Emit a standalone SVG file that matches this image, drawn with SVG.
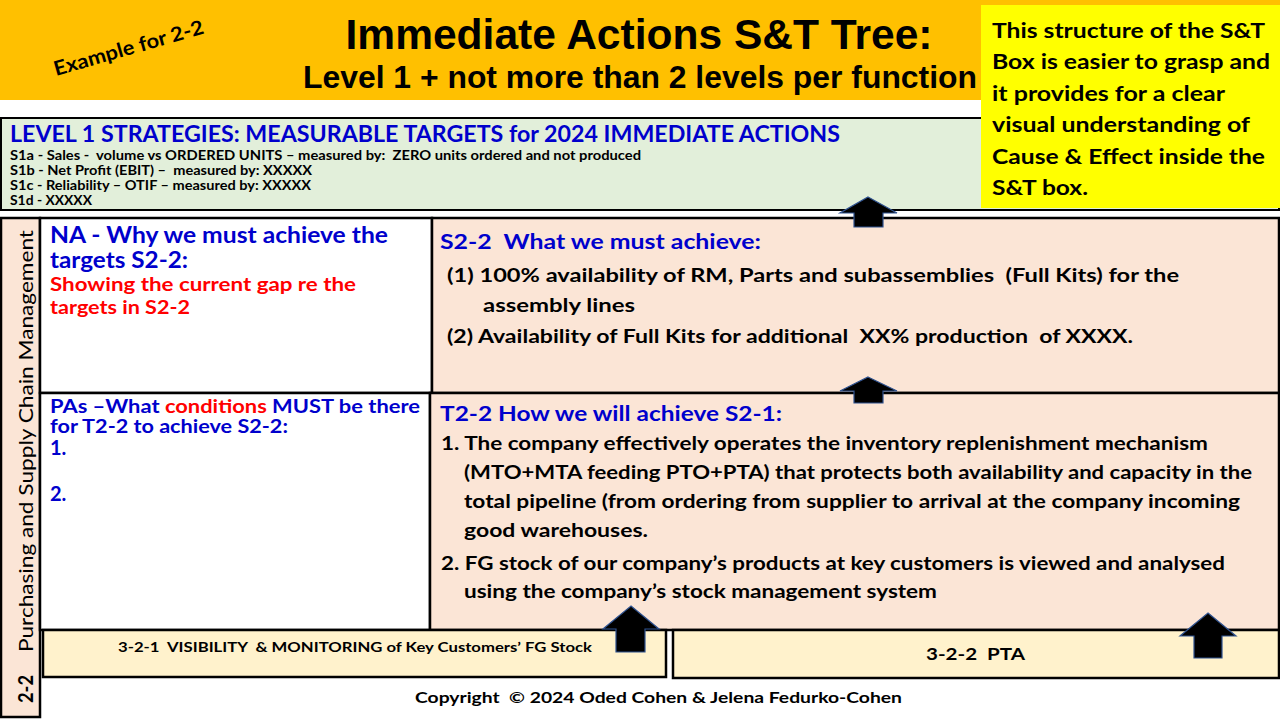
<svg xmlns="http://www.w3.org/2000/svg" width="1280" height="720" viewBox="0 0 1280 720">
<style>
text{white-space:pre;}
.c{font-family:Lato,"Open Sans",sans-serif;font-weight:bold;}
.blue{fill:#0000CC;}
.red{fill:#FF0000;}
.blk{fill:#000000;}
.cell{stroke:#000;stroke-width:2.5;}
.arrow{fill:#000;stroke:#2F528F;stroke-width:1.2;}
</style>
<rect width="1280" height="720" fill="#FFFFFF"/>
<g id="header">
<rect x="0" y="0" width="1280" height="100" fill="#FFC000"/>
<text x="639" y="49" text-anchor="middle" font-family="'Liberation Sans',Arial,sans-serif" font-weight="bold" font-size="42" textLength="587" lengthAdjust="spacingAndGlyphs">Immediate Actions S&amp;T Tree:</text>
<text x="640" y="88" text-anchor="middle" font-family="'Liberation Sans',Arial,sans-serif" font-weight="bold" font-size="31" textLength="674" lengthAdjust="spacingAndGlyphs">Level 1 + not more than 2 levels per function</text>
<text class="c blk" font-size="20" transform="translate(56,76) rotate(-16)" textLength="155" lengthAdjust="spacingAndGlyphs">Example for 2-2</text>
</g>
<g id="level1">
<rect x="1" y="118" width="1278" height="92" fill="#E2EFDA" stroke="#000" stroke-width="2"/>
<text class="c blue" x="10" y="142" font-size="23" textLength="830" lengthAdjust="spacingAndGlyphs">LEVEL 1 STRATEGIES: MEASURABLE TARGETS for 2024 IMMEDIATE ACTIONS</text>
<text class="c blk" x="10" y="160" font-size="13" textLength="631" lengthAdjust="spacingAndGlyphs">S1a - Sales -  volume vs ORDERED UNITS – measured by:  ZERO units ordered and not produced</text>
<text class="c blk" x="10" y="175" font-size="13" textLength="302" lengthAdjust="spacingAndGlyphs">S1b - Net Profit (EBIT) –  measured by: XXXXX</text>
<text class="c blk" x="10" y="190" font-size="13" textLength="301" lengthAdjust="spacingAndGlyphs">S1c - Reliability – OTIF – measured by: XXXXX</text>
<text class="c blk" x="10" y="205" font-size="13" textLength="82" lengthAdjust="spacingAndGlyphs">S1d - XXXXX</text>
</g>
<g id="note">
<rect x="981" y="5" width="299" height="203" fill="#FFFF00"/>
<text class="c blk" font-size="20.5"><tspan x="992" y="38" textLength="273" lengthAdjust="spacingAndGlyphs">This structure of the S&amp;T</tspan><tspan x="992" y="69" textLength="278" lengthAdjust="spacingAndGlyphs">Box is easier to grasp and</tspan><tspan x="992" y="101" textLength="233" lengthAdjust="spacingAndGlyphs">it provides for a clear</tspan><tspan x="992" y="132" textLength="258" lengthAdjust="spacingAndGlyphs">visual understanding of</tspan><tspan x="992" y="164" textLength="273" lengthAdjust="spacingAndGlyphs">Cause &amp; Effect inside the</tspan><tspan x="992" y="195" textLength="96" lengthAdjust="spacingAndGlyphs">S&amp;T box.</tspan></text>
</g>
<g id="function-label">
<rect x="1" y="218" width="39" height="499" fill="#FBE5D6" class="cell"/>
<g transform="translate(33,703) rotate(-90)">
<text class="c blk" x="0" y="0" font-size="20" textLength="28" lengthAdjust="spacingAndGlyphs">2-2</text>
<text x="51" y="0" font-family="Lato,'Open Sans',sans-serif" font-size="20" fill="#000" textLength="422" lengthAdjust="spacingAndGlyphs">Purchasing and Supply Chain Management</text>
</g>
</g>
<g id="na">
<rect x="40" y="218" width="392" height="175" fill="#FFFFFF" class="cell"/>
<text class="c blue" x="50" y="243" font-size="22" textLength="338" lengthAdjust="spacingAndGlyphs">NA - Why we must achieve the</text>
<text class="c blue" x="50" y="268" font-size="22" textLength="138" lengthAdjust="spacingAndGlyphs">targets S2-2:</text>
<text class="c red" x="50" y="291" font-size="19" textLength="306" lengthAdjust="spacingAndGlyphs">Showing the current gap re the</text>
<text class="c red" x="50" y="314" font-size="19" textLength="140" lengthAdjust="spacingAndGlyphs">targets in S2-2</text>
</g>
<g id="s22">
<rect x="432" y="218" width="847" height="175" fill="#FBE5D6" class="cell"/>
<text class="c blue" x="440" y="249" font-size="21" textLength="321" lengthAdjust="spacingAndGlyphs">S2-2  What we must achieve:</text>
<text class="c blk" x="447" y="282" font-size="19" textLength="732" lengthAdjust="spacingAndGlyphs">(1) 100% availability of RM, Parts and subassemblies  (Full Kits) for the</text>
<text class="c blk" x="483" y="312" font-size="19" textLength="152" lengthAdjust="spacingAndGlyphs">assembly lines</text>
<text class="c blk" x="447" y="343" font-size="19" textLength="686" lengthAdjust="spacingAndGlyphs">(2) Availability of Full Kits for additional  XX% production  of XXXX.</text>
</g>
<g id="pas">
<rect x="40" y="393" width="390" height="237" fill="#FFFFFF" class="cell"/>
<text class="c blue" x="50" y="413" font-size="19.5" textLength="370" lengthAdjust="spacingAndGlyphs">PAs –What <tspan class="red">conditions</tspan> MUST be there</text>
<text class="c blue" x="50" y="433" font-size="19.5" textLength="238" lengthAdjust="spacingAndGlyphs">for T2-2 to achieve S2-2:</text>
<text class="c blue" x="50" y="455" font-size="20">1.</text>
<text class="c blue" x="50" y="501" font-size="20">2.</text>
</g>
<g id="t22">
<rect x="430" y="393" width="849" height="237" fill="#FBE5D6" class="cell"/>
<text class="c blue" x="440" y="421" font-size="21" textLength="342" lengthAdjust="spacingAndGlyphs">T2-2 How we will achieve S2-1:</text>
<text class="c blk" x="441" y="450" font-size="19.5" textLength="767" lengthAdjust="spacingAndGlyphs">1. The company effectively operates the inventory replenishment mechanism</text>
<text class="c blk" x="464" y="479" font-size="19.5" textLength="788" lengthAdjust="spacingAndGlyphs">(MTO+MTA feeding PTO+PTA) that protects both availability and capacity in the</text>
<text class="c blk" x="464" y="508" font-size="19.5" textLength="776" lengthAdjust="spacingAndGlyphs">total pipeline (from ordering from supplier to arrival at the company incoming</text>
<text class="c blk" x="464" y="537" font-size="19.5" textLength="184" lengthAdjust="spacingAndGlyphs">good warehouses.</text>
<text class="c blk" x="441" y="570" font-size="19.5" textLength="784" lengthAdjust="spacingAndGlyphs">2. FG stock of our company’s products at key customers is viewed and analysed</text>
<text class="c blk" x="464" y="598" font-size="19.5" textLength="473" lengthAdjust="spacingAndGlyphs">using the company’s stock management system</text>
</g>
<g id="box-321">
<rect x="43" y="630" width="623" height="47" fill="#FFF2CC" class="cell"/>
<text class="c blk" x="118" y="652" font-size="14" textLength="474" lengthAdjust="spacingAndGlyphs">3-2-1  VISIBILITY  &amp; MONITORING of Key Customers’ FG Stock</text>
</g>
<g id="box-322">
<rect x="673" y="630" width="606" height="48" fill="#FFF2CC" class="cell"/>
<text class="c blk" x="926" y="660" font-size="17.5" textLength="99" lengthAdjust="spacingAndGlyphs">3-2-2  PTA</text>
</g>
<g id="copyright">
<text class="c blk" x="415" y="703" font-size="16" textLength="487" lengthAdjust="spacingAndGlyphs">Copyright  © 2024 Oded Cohen &amp; Jelena Fedurko-Cohen</text>
</g>
<g id="connectors">
<path class="arrow" d="M868,197 L897,213 L883,213 L883,227 L854,227 L854,213 L840,213 Z"/>
<path class="arrow" d="M868,377 L897,391 L883,391 L883,403 L854,403 L854,391 L840,391 Z"/>
<path class="arrow" d="M631,606 L659,629 L645,629 L645,652 L616,652 L616,629 L603,629 Z"/>
<path class="arrow" d="M1208,613 L1236,636 L1222,636 L1222,658 L1194,658 L1194,636 L1180,636 Z"/>
</g>
</svg>
